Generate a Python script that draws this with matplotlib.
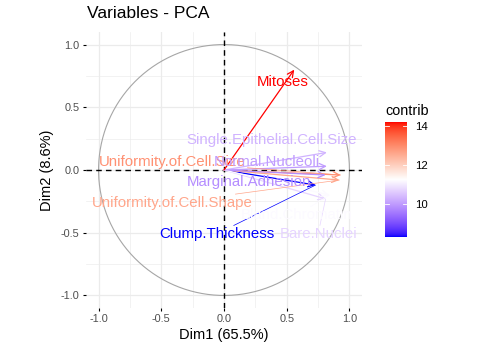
import numpy as np
import matplotlib
matplotlib.use("Agg")
import matplotlib.pyplot as plt
from matplotlib.colors import ListedColormap, Normalize

# ---------------- data ----------------
variables = ["Clump.Thickness", "Uniformity.of.Cell.Size", "Uniformity.of.Cell.Shape",
             "Marginal.Adhesion", "Single.Epithelial.Cell.Size", "Bare.Nuclei",
             "Bland.Chromatin", "Normal.Nucleoli", "Mitoses"]
dim1 = [0.73, 0.93, 0.92, 0.81, 0.82, 0.81, 0.84, 0.82, 0.56]
dim2 = [-0.12, -0.04, -0.08, -0.04, 0.14, -0.23, -0.20, 0.03, 0.80]
contrib = [8.3, 12.9, 12.6, 9.8, 10.3, 10.7, 11.2, 10.0, 14.2]
ticks = [-1.0, -0.5, 0.0, 0.5, 1.0]
tick_labels = ["-1.0", "-0.5", "0.0", "0.5", "1.0"]
legend_ticks = [10, 12, 14]
xlab = "Dim1 (65.5%)"
ylab = "Dim2 (8.6%)"
title = "Variables - PCA"

# ---------------- layout (label placement, repel-like) ----------------
label_pos = {
    "Clump.Thickness": (-0.06, -0.51),
    "Uniformity.of.Cell.Size": (-0.41, 0.064),
    "Uniformity.of.Cell.Shape": (-0.41, -0.26),
    "Marginal.Adhesion": (0.20, -0.095),
    "Single.Epithelial.Cell.Size": (0.38, 0.238),
    "Bare.Nuclei": (0.75, -0.51),
    "Bland.Chromatin": (0.58, -0.36),
    "Normal.Nucleoli": (0.34, 0.064),
    "Mitoses": (0.467, 0.70),
}
leader = {"Clump.Thickness", "Uniformity.of.Cell.Shape", "Bare.Nuclei",
          "Bland.Chromatin", "Uniformity.of.Cell.Size"}

plt.rcParams['font.family'] = ['Liberation Sans', 'DejaVu Sans']

# ---------------- Lab-interpolated gradient (blue-white-red) ----------------
def srgb_to_lab(rgb):
    rgb = np.asarray(rgb, float)
    lin = np.where(rgb <= 0.04045, rgb / 12.92, ((rgb + 0.055) / 1.055) ** 2.4)
    M = np.array([[0.4124564, 0.3575761, 0.1804375],
                  [0.2126729, 0.7151522, 0.0721750],
                  [0.0193339, 0.1191920, 0.9503041]])
    xyz = M @ lin / np.array([0.95047, 1.0, 1.08883])
    f = np.where(xyz > 0.008856, np.cbrt(xyz), 7.787 * xyz + 16 / 116)
    return np.array([116 * f[1] - 16, 500 * (f[0] - f[1]), 200 * (f[1] - f[2])])

def lab_to_srgb(lab):
    L, a, b = lab
    fy = (L + 16) / 116
    fx = fy + a / 500
    fz = fy - b / 200
    f = np.array([fx, fy, fz])
    xyz = np.where(f ** 3 > 0.008856, f ** 3, (f - 16 / 116) / 7.787)
    xyz = xyz * np.array([0.95047, 1.0, 1.08883])
    Minv = np.array([[3.2404542, -1.5371385, -0.4985314],
                     [-0.9692660, 1.8760108, 0.0415560],
                     [0.0556434, -0.2040259, 1.0572252]])
    lin = np.clip(Minv @ xyz, 0, 1)
    rgb = np.where(lin <= 0.0031308, 12.92 * lin, 1.055 * lin ** (1 / 2.4) - 0.055)
    return np.clip(rgb, 0, 1)

stops = [srgb_to_lab([0, 0, 1]), srgb_to_lab([1, 1, 1]), srgb_to_lab([1, 0, 0])]
cols = []
for t in np.linspace(0, 1, 256):
    if t <= 0.5:
        u = t / 0.5
        lab = stops[0] * (1 - u) + stops[1] * u
    else:
        u = (t - 0.5) / 0.5
        lab = stops[1] * (1 - u) + stops[2] * u
    cols.append(lab_to_srgb(lab))
cmap = ListedColormap(cols)
norm = Normalize(vmin=min(contrib), vmax=max(contrib))

# ---------------- figure ----------------
W, H = 478, 350
fig = plt.figure(figsize=(W / 100, H / 100), dpi=100)
px, py, pw, ph = 86, 32, 276, 276
ax = fig.add_axes([px / W, 1 - (py + ph) / H, pw / W, ph / H])
ax.set_xlim(-1.1, 1.1)
ax.set_ylim(-1.1, 1.1)
for s in ax.spines.values():
    s.set_visible(False)

# grid
for v in [-0.75, -0.25, 0.25, 0.75]:
    ax.axvline(v, color='#EBEBEB', lw=0.45, zorder=0)
    ax.axhline(v, color='#EBEBEB', lw=0.45, zorder=0)
for v in ticks:
    ax.axvline(v, color='#EBEBEB', lw=0.9, zorder=0)
    ax.axhline(v, color='#EBEBEB', lw=0.9, zorder=0)

# circle
th = np.linspace(0, 2 * np.pi, 400)
ax.plot(np.cos(th), np.sin(th), color='#A6A6A6', lw=0.8, zorder=1)

# dashed zero lines
ax.axhline(0, color='black', lw=1.0, ls=(0, (4, 3)), zorder=2)
ax.axvline(0, color='black', lw=1.0, ls=(0, (4, 3)), zorder=2)

# arrows
for name, x, y, c in zip(variables, dim1, dim2, contrib):
    col = cmap(norm(c))
    ax.annotate("", xy=(x, y), xytext=(0, 0),
                arrowprops=dict(arrowstyle='->,head_length=0.45,head_width=0.22',
                                color=col, lw=0.9, shrinkA=0, shrinkB=0),
                zorder=3)

# labels
for name, x, y, c in zip(variables, dim1, dim2, contrib):
    col = cmap(norm(c))
    lx, ly = label_pos[name]
    if name in leader:
        ax.annotate(name, xy=(x, y), xytext=(lx, ly), color=col, fontsize=10.8,
                    ha='center', va='center',
                    bbox=dict(boxstyle='square,pad=0.1', fc='none', ec='none'),
                    arrowprops=dict(arrowstyle='-', color=col, lw=0.5,
                                    shrinkA=0, shrinkB=0),
                    zorder=4)
    else:
        ax.text(lx, ly, name, color=col, fontsize=10.8, ha='center', va='center', zorder=4)

ax.set_xticks(ticks)
ax.set_xticklabels(tick_labels)
ax.set_yticks(ticks)
ax.set_yticklabels(tick_labels)
ax.tick_params(length=2.5, width=0.8, color='black', labelcolor='#4D4D4D',
               labelsize=7.8, pad=2)

fig.text(87 / W, 1 - 14 / H, title, fontsize=12.5, ha='left', va='center')
fig.text((px + pw / 2) / W, 1 - 335 / H, xlab, fontsize=10.5, ha='center', va='center')
fig.text(47 / W, 1 - 170 / H, ylab, fontsize=10.5, ha='center', va='center', rotation=90)

# colorbar legend
cax = fig.add_axes([385 / W, 1 - 237 / H, 22 / W, 115 / H])
grad = np.linspace(min(contrib), max(contrib), 256).reshape(-1, 1)
cax.imshow(grad, aspect='auto', cmap=cmap, norm=norm, origin='lower',
           extent=[0, 1, min(contrib), max(contrib)])
cax.set_xlim(0, 1)
cax.set_ylim(min(contrib), max(contrib))
for s in cax.spines.values():
    s.set_visible(False)
cax.set_xticks([])
cax.set_yticks(legend_ticks)
cax.yaxis.tick_right()
cax.tick_params(axis='y', length=0, labelsize=8.2, labelcolor='black', pad=6)
for t in legend_ticks:
    cax.plot([0, 0.2], [t, t], color='white', lw=0.6)
    cax.plot([0.8, 1.0], [t, t], color='white', lw=0.6)
fig.text(385 / W, 1 - 111 / H, "contrib", fontsize=10.4, ha='left', va='center')

fig.savefig("out.png", dpi=100)
